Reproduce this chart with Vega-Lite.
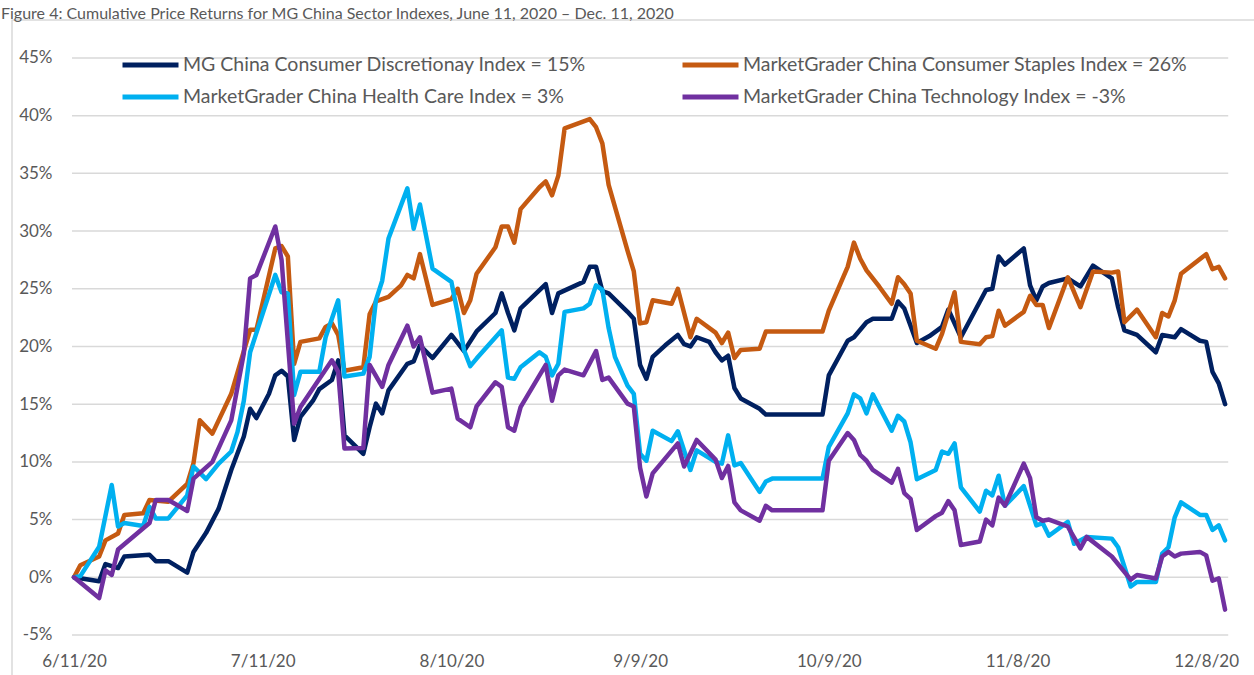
{
  "$schema": "https://vega.github.io/schema/vega-lite/v6.json",
  "width": 1243,
  "height": 657,
  "autosize": {"type": "none"},
  "padding": {"left": 12, "top": 20, "right": 0, "bottom": 0},
  "background": "white",
  "config": {
    "view": {"stroke": "#D9D9D9", "strokeWidth": 1.5},
    "font": "Lato"
  },
  "title": {
    "text": "Figure 4: Cumulative Price Returns for MG China Sector Indexes, June 11, 2020 – Dec. 11, 2020",
    "anchor": "start",
    "frame": "group",
    "baseline": "alphabetic",
    "offset": -15,
    "dx": -11,
    "font": "Lato",
    "fontSize": 16,
    "fontWeight": "normal",
    "color": "#595959"
  },
  "layer": [
    {
      "data": {"values": [{"g": -5}, {"g": 0}, {"g": 5}, {"g": 10}, {"g": 15}, {"g": 20}, {"g": 25}, {"g": 30}, {"g": 35}, {"g": 40}, {"g": 45}]},
      "mark": {"type": "rule", "color": "#D9D9D9", "strokeWidth": 1.5},
      "encoding": {
        "x": {"datum": 1591805952000, "type": "temporal"},
        "x2": {"datum": 1607688000000},
        "y": {"field": "g", "type": "quantitative"}
      }
    },
    {
      "data": {
        "values": [
          {"k":"D","d":"2020-06-11","v":0},{"k":"D","d":"2020-06-15","v":-0.35},{"k":"D","d":"2020-06-16","v":1.15},{"k":"D","d":"2020-06-18","v":0.8},{"k":"D","d":"2020-06-19","v":1.8},{"k":"D","d":"2020-06-23","v":1.95},{"k":"D","d":"2020-06-24","v":1.4},{"k":"D","d":"2020-06-26","v":1.4},{"k":"D","d":"2020-06-29","v":0.4},{"k":"D","d":"2020-06-30","v":2.2},{"k":"D","d":"2020-07-02","v":3.85},{"k":"D","d":"2020-07-04","v":5.95},{"k":"D","d":"2020-07-06","v":9.3},{"k":"D","d":"2020-07-08","v":12.2},{"k":"D","d":"2020-07-09","v":14.6},{"k":"D","d":"2020-07-10","v":13.8},{"k":"D","d":"2020-07-12","v":15.9},{"k":"D","d":"2020-07-13","v":17.5},{"k":"D","d":"2020-07-14","v":17.9},{"k":"D","d":"2020-07-15","v":17.4},{"k":"D","d":"2020-07-16","v":11.9},{"k":"D","d":"2020-07-17","v":13.9},{"k":"D","d":"2020-07-19","v":15.3},{"k":"D","d":"2020-07-20","v":16.3},{"k":"D","d":"2020-07-22","v":17.1},{"k":"D","d":"2020-07-23","v":18.8},{"k":"D","d":"2020-07-24","v":12.3},{"k":"D","d":"2020-07-27","v":10.7},{"k":"D","d":"2020-07-28","v":13.0},{"k":"D","d":"2020-07-29","v":15.05},{"k":"D","d":"2020-07-30","v":14.2},{"k":"D","d":"2020-07-31","v":16.2},{"k":"D","d":"2020-08-03","v":18.5},{"k":"D","d":"2020-08-04","v":18.7},{"k":"D","d":"2020-08-05","v":20.1},{"k":"D","d":"2020-08-07","v":19.0},{"k":"D","d":"2020-08-10","v":21.0},{"k":"D","d":"2020-08-12","v":19.6},{"k":"D","d":"2020-08-14","v":21.3},{"k":"D","d":"2020-08-17","v":22.9},{"k":"D","d":"2020-08-18","v":24.6},{"k":"D","d":"2020-08-19","v":22.9},{"k":"D","d":"2020-08-20","v":21.4},{"k":"D","d":"2020-08-21","v":23.3},{"k":"D","d":"2020-08-25","v":25.4},{"k":"D","d":"2020-08-26","v":22.9},{"k":"D","d":"2020-08-27","v":24.6},{"k":"D","d":"2020-08-31","v":25.6},{"k":"D","d":"2020-09-01","v":26.9},{"k":"D","d":"2020-09-02","v":26.9},{"k":"D","d":"2020-09-03","v":24.8},{"k":"D","d":"2020-09-04","v":24.6},{"k":"D","d":"2020-09-07","v":23.0},{"k":"D","d":"2020-09-08","v":22.4},{"k":"D","d":"2020-09-09","v":18.4},{"k":"D","d":"2020-09-10","v":17.2},{"k":"D","d":"2020-09-11","v":19.1},{"k":"D","d":"2020-09-13","v":20.1},{"k":"D","d":"2020-09-15","v":21.0},{"k":"D","d":"2020-09-16","v":20.2},{"k":"D","d":"2020-09-17","v":20.0},{"k":"D","d":"2020-09-18","v":20.8},{"k":"D","d":"2020-09-20","v":20.4},{"k":"D","d":"2020-09-21","v":19.5},{"k":"D","d":"2020-09-22","v":18.8},{"k":"D","d":"2020-09-23","v":19.2},{"k":"D","d":"2020-09-24","v":16.4},{"k":"D","d":"2020-09-25","v":15.5},{"k":"D","d":"2020-09-28","v":14.6},{"k":"D","d":"2020-09-29","v":14.1},{"k":"D","d":"2020-10-08","v":14.1},{"k":"D","d":"2020-10-09","v":17.5},{"k":"D","d":"2020-10-12","v":20.5},{"k":"D","d":"2020-10-13","v":20.8},{"k":"D","d":"2020-10-15","v":22.1},{"k":"D","d":"2020-10-16","v":22.4},{"k":"D","d":"2020-10-19","v":22.4},{"k":"D","d":"2020-10-20","v":23.9},{"k":"D","d":"2020-10-21","v":23.3},{"k":"D","d":"2020-10-23","v":20.3},{"k":"D","d":"2020-10-25","v":20.9},{"k":"D","d":"2020-10-27","v":21.7},{"k":"D","d":"2020-10-28","v":23.2},{"k":"D","d":"2020-10-30","v":20.8},{"k":"D","d":"2020-11-03","v":24.9},{"k":"D","d":"2020-11-04","v":25.0},{"k":"D","d":"2020-11-05","v":27.8},{"k":"D","d":"2020-11-06","v":27.1},{"k":"D","d":"2020-11-09","v":28.5},{"k":"D","d":"2020-11-10","v":25.3},{"k":"D","d":"2020-11-11","v":24.0},{"k":"D","d":"2020-11-12","v":25.2},{"k":"D","d":"2020-11-13","v":25.5},{"k":"D","d":"2020-11-16","v":25.9},{"k":"D","d":"2020-11-18","v":25.2},{"k":"D","d":"2020-11-20","v":27.0},{"k":"D","d":"2020-11-23","v":25.9},{"k":"D","d":"2020-11-24","v":23.4},{"k":"D","d":"2020-11-25","v":21.4},{"k":"D","d":"2020-11-27","v":21.0},{"k":"D","d":"2020-11-30","v":19.5},{"k":"D","d":"2020-12-01","v":21.0},{"k":"D","d":"2020-12-03","v":20.8},{"k":"D","d":"2020-12-04","v":21.5},{"k":"D","d":"2020-12-07","v":20.5},{"k":"D","d":"2020-12-08","v":20.4},{"k":"D","d":"2020-12-09","v":17.8},{"k":"D","d":"2020-12-10","v":16.8},{"k":"D","d":"2020-12-11","v":15.0},

          {"k":"S","d":"2020-06-11","v":0},{"k":"S","d":"2020-06-12","v":1.05},{"k":"S","d":"2020-06-15","v":1.8},{"k":"S","d":"2020-06-16","v":3.2},{"k":"S","d":"2020-06-18","v":3.8},{"k":"S","d":"2020-06-19","v":5.4},{"k":"S","d":"2020-06-22","v":5.55},{"k":"S","d":"2020-06-23","v":6.7},{"k":"S","d":"2020-06-26","v":6.55},{"k":"S","d":"2020-06-29","v":8.1},{"k":"S","d":"2020-06-30","v":9.9},{"k":"S","d":"2020-07-01","v":13.6},{"k":"S","d":"2020-07-03","v":12.45},{"k":"S","d":"2020-07-06","v":15.9},{"k":"S","d":"2020-07-09","v":21.45},{"k":"S","d":"2020-07-10","v":21.45},{"k":"S","d":"2020-07-13","v":28.5},{"k":"S","d":"2020-07-14","v":28.7},{"k":"S","d":"2020-07-15","v":27.8},{"k":"S","d":"2020-07-16","v":18.5},{"k":"S","d":"2020-07-17","v":20.4},{"k":"S","d":"2020-07-20","v":20.7},{"k":"S","d":"2020-07-21","v":21.7},{"k":"S","d":"2020-07-22","v":22.0},{"k":"S","d":"2020-07-23","v":21.0},{"k":"S","d":"2020-07-24","v":17.9},{"k":"S","d":"2020-07-27","v":18.2},{"k":"S","d":"2020-07-28","v":22.8},{"k":"S","d":"2020-07-29","v":23.9},{"k":"S","d":"2020-07-31","v":24.3},{"k":"S","d":"2020-08-02","v":25.3},{"k":"S","d":"2020-08-03","v":26.2},{"k":"S","d":"2020-08-04","v":25.9},{"k":"S","d":"2020-08-05","v":28.0},{"k":"S","d":"2020-08-07","v":23.6},{"k":"S","d":"2020-08-10","v":24.1},{"k":"S","d":"2020-08-11","v":25.0},{"k":"S","d":"2020-08-12","v":22.9},{"k":"S","d":"2020-08-13","v":24.0},{"k":"S","d":"2020-08-14","v":26.3},{"k":"S","d":"2020-08-17","v":28.6},{"k":"S","d":"2020-08-18","v":30.4},{"k":"S","d":"2020-08-19","v":30.4},{"k":"S","d":"2020-08-20","v":29.0},{"k":"S","d":"2020-08-21","v":31.9},{"k":"S","d":"2020-08-24","v":33.8},{"k":"S","d":"2020-08-25","v":34.3},{"k":"S","d":"2020-08-26","v":33.1},{"k":"S","d":"2020-08-27","v":34.8},{"k":"S","d":"2020-08-28","v":38.9},{"k":"S","d":"2020-09-01","v":39.7},{"k":"S","d":"2020-09-02","v":39.0},{"k":"S","d":"2020-09-03","v":37.6},{"k":"S","d":"2020-09-04","v":34.0},{"k":"S","d":"2020-09-07","v":28.3},{"k":"S","d":"2020-09-08","v":26.5},{"k":"S","d":"2020-09-09","v":22.0},{"k":"S","d":"2020-09-10","v":22.1},{"k":"S","d":"2020-09-11","v":24.0},{"k":"S","d":"2020-09-14","v":23.7},{"k":"S","d":"2020-09-15","v":25.0},{"k":"S","d":"2020-09-17","v":20.8},{"k":"S","d":"2020-09-18","v":22.4},{"k":"S","d":"2020-09-21","v":21.2},{"k":"S","d":"2020-09-22","v":20.3},{"k":"S","d":"2020-09-23","v":21.2},{"k":"S","d":"2020-09-24","v":19.0},{"k":"S","d":"2020-09-25","v":19.7},{"k":"S","d":"2020-09-28","v":19.8},{"k":"S","d":"2020-09-29","v":21.3},{"k":"S","d":"2020-10-08","v":21.3},{"k":"S","d":"2020-10-09","v":23.1},{"k":"S","d":"2020-10-12","v":26.9},{"k":"S","d":"2020-10-13","v":29.0},{"k":"S","d":"2020-10-14","v":27.6},{"k":"S","d":"2020-10-15","v":26.6},{"k":"S","d":"2020-10-17","v":25.2},{"k":"S","d":"2020-10-19","v":23.7},{"k":"S","d":"2020-10-20","v":26.0},{"k":"S","d":"2020-10-21","v":25.4},{"k":"S","d":"2020-10-22","v":24.6},{"k":"S","d":"2020-10-23","v":20.5},{"k":"S","d":"2020-10-26","v":19.8},{"k":"S","d":"2020-10-27","v":21.1},{"k":"S","d":"2020-10-29","v":24.7},{"k":"S","d":"2020-10-30","v":20.4},{"k":"S","d":"2020-11-02","v":20.2},{"k":"S","d":"2020-11-03","v":20.8},{"k":"S","d":"2020-11-04","v":20.9},{"k":"S","d":"2020-11-05","v":23.1},{"k":"S","d":"2020-11-06","v":21.8},{"k":"S","d":"2020-11-09","v":23.0},{"k":"S","d":"2020-11-10","v":24.4},{"k":"S","d":"2020-11-11","v":23.6},{"k":"S","d":"2020-11-12","v":23.6},{"k":"S","d":"2020-11-13","v":21.6},{"k":"S","d":"2020-11-16","v":26.0},{"k":"S","d":"2020-11-18","v":23.4},{"k":"S","d":"2020-11-20","v":26.5},{"k":"S","d":"2020-11-23","v":26.4},{"k":"S","d":"2020-11-24","v":26.5},{"k":"S","d":"2020-11-25","v":22.1},{"k":"S","d":"2020-11-27","v":23.2},{"k":"S","d":"2020-11-30","v":20.8},{"k":"S","d":"2020-12-01","v":22.9},{"k":"S","d":"2020-12-02","v":22.6},{"k":"S","d":"2020-12-03","v":24.0},{"k":"S","d":"2020-12-04","v":26.3},{"k":"S","d":"2020-12-08","v":28.0},{"k":"S","d":"2020-12-09","v":26.7},{"k":"S","d":"2020-12-10","v":26.9},{"k":"S","d":"2020-12-11","v":25.9},

          {"k":"H","d":"2020-06-11","v":0},{"k":"H","d":"2020-06-12","v":0.1},{"k":"H","d":"2020-06-15","v":2.65},{"k":"H","d":"2020-06-17","v":8.0},{"k":"H","d":"2020-06-18","v":4.4},{"k":"H","d":"2020-06-19","v":4.7},{"k":"H","d":"2020-06-22","v":4.45},{"k":"H","d":"2020-06-23","v":6.1},{"k":"H","d":"2020-06-24","v":5.1},{"k":"H","d":"2020-06-26","v":5.1},{"k":"H","d":"2020-06-29","v":7.1},{"k":"H","d":"2020-06-30","v":9.6},{"k":"H","d":"2020-07-02","v":8.5},{"k":"H","d":"2020-07-04","v":9.85},{"k":"H","d":"2020-07-06","v":10.9},{"k":"H","d":"2020-07-07","v":12.6},{"k":"H","d":"2020-07-08","v":15.3},{"k":"H","d":"2020-07-09","v":19.5},{"k":"H","d":"2020-07-13","v":26.2},{"k":"H","d":"2020-07-14","v":24.7},{"k":"H","d":"2020-07-15","v":24.6},{"k":"H","d":"2020-07-16","v":15.8},{"k":"H","d":"2020-07-17","v":17.8},{"k":"H","d":"2020-07-20","v":17.8},{"k":"H","d":"2020-07-21","v":20.8},{"k":"H","d":"2020-07-23","v":24.0},{"k":"H","d":"2020-07-24","v":17.4},{"k":"H","d":"2020-07-27","v":17.65},{"k":"H","d":"2020-07-28","v":19.1},{"k":"H","d":"2020-07-29","v":24.0},{"k":"H","d":"2020-07-30","v":25.7},{"k":"H","d":"2020-07-31","v":29.35},{"k":"H","d":"2020-08-03","v":33.7},{"k":"H","d":"2020-08-04","v":30.2},{"k":"H","d":"2020-08-05","v":32.3},{"k":"H","d":"2020-08-07","v":26.75},{"k":"H","d":"2020-08-10","v":25.6},{"k":"H","d":"2020-08-11","v":22.85},{"k":"H","d":"2020-08-12","v":19.7},{"k":"H","d":"2020-08-13","v":18.3},{"k":"H","d":"2020-08-14","v":18.95},{"k":"H","d":"2020-08-18","v":21.4},{"k":"H","d":"2020-08-19","v":17.3},{"k":"H","d":"2020-08-20","v":17.2},{"k":"H","d":"2020-08-21","v":18.2},{"k":"H","d":"2020-08-24","v":19.5},{"k":"H","d":"2020-08-25","v":19.1},{"k":"H","d":"2020-08-26","v":17.5},{"k":"H","d":"2020-08-27","v":18.5},{"k":"H","d":"2020-08-28","v":23.0},{"k":"H","d":"2020-08-31","v":23.3},{"k":"H","d":"2020-09-01","v":23.7},{"k":"H","d":"2020-09-02","v":25.3},{"k":"H","d":"2020-09-03","v":24.9},{"k":"H","d":"2020-09-04","v":21.6},{"k":"H","d":"2020-09-05","v":19.1},{"k":"H","d":"2020-09-07","v":16.6},{"k":"H","d":"2020-09-08","v":15.9},{"k":"H","d":"2020-09-09","v":10.7},{"k":"H","d":"2020-09-10","v":10.1},{"k":"H","d":"2020-09-11","v":12.7},{"k":"H","d":"2020-09-14","v":11.8},{"k":"H","d":"2020-09-15","v":12.65},{"k":"H","d":"2020-09-17","v":9.3},{"k":"H","d":"2020-09-18","v":11.0},{"k":"H","d":"2020-09-21","v":10.0},{"k":"H","d":"2020-09-22","v":9.85},{"k":"H","d":"2020-09-23","v":12.3},{"k":"H","d":"2020-09-24","v":9.7},{"k":"H","d":"2020-09-25","v":9.9},{"k":"H","d":"2020-09-28","v":7.4},{"k":"H","d":"2020-09-29","v":8.3},{"k":"H","d":"2020-09-30","v":8.55},{"k":"H","d":"2020-10-08","v":8.55},{"k":"H","d":"2020-10-09","v":11.3},{"k":"H","d":"2020-10-12","v":14.2},{"k":"H","d":"2020-10-13","v":15.85},{"k":"H","d":"2020-10-14","v":15.5},{"k":"H","d":"2020-10-15","v":14.2},{"k":"H","d":"2020-10-16","v":15.85},{"k":"H","d":"2020-10-19","v":12.7},{"k":"H","d":"2020-10-20","v":14.0},{"k":"H","d":"2020-10-21","v":13.5},{"k":"H","d":"2020-10-22","v":11.7},{"k":"H","d":"2020-10-23","v":8.5},{"k":"H","d":"2020-10-26","v":9.3},{"k":"H","d":"2020-10-27","v":10.9},{"k":"H","d":"2020-10-28","v":10.7},{"k":"H","d":"2020-10-29","v":11.6},{"k":"H","d":"2020-10-30","v":7.8},{"k":"H","d":"2020-11-02","v":5.7},{"k":"H","d":"2020-11-03","v":7.5},{"k":"H","d":"2020-11-04","v":7.1},{"k":"H","d":"2020-11-05","v":8.8},{"k":"H","d":"2020-11-06","v":6.2},{"k":"H","d":"2020-11-09","v":7.9},{"k":"H","d":"2020-11-11","v":4.5},{"k":"H","d":"2020-11-12","v":4.7},{"k":"H","d":"2020-11-13","v":3.6},{"k":"H","d":"2020-11-16","v":4.8},{"k":"H","d":"2020-11-17","v":2.9},{"k":"H","d":"2020-11-19","v":3.5},{"k":"H","d":"2020-11-23","v":3.35},{"k":"H","d":"2020-11-24","v":2.6},{"k":"H","d":"2020-11-26","v":-0.8},{"k":"H","d":"2020-11-27","v":-0.4},{"k":"H","d":"2020-11-30","v":-0.4},{"k":"H","d":"2020-12-01","v":2.05},{"k":"H","d":"2020-12-02","v":2.6},{"k":"H","d":"2020-12-03","v":5.2},{"k":"H","d":"2020-12-04","v":6.5},{"k":"H","d":"2020-12-07","v":5.4},{"k":"H","d":"2020-12-08","v":5.4},{"k":"H","d":"2020-12-09","v":4.1},{"k":"H","d":"2020-12-10","v":4.5},{"k":"H","d":"2020-12-11","v":3.2},

          {"k":"T","d":"2020-06-11","v":0},{"k":"T","d":"2020-06-15","v":-1.8},{"k":"T","d":"2020-06-16","v":0.6},{"k":"T","d":"2020-06-17","v":0.2},{"k":"T","d":"2020-06-18","v":2.4},{"k":"T","d":"2020-06-23","v":4.7},{"k":"T","d":"2020-06-24","v":6.7},{"k":"T","d":"2020-06-26","v":6.7},{"k":"T","d":"2020-06-29","v":5.75},{"k":"T","d":"2020-06-30","v":8.55},{"k":"T","d":"2020-07-03","v":10.0},{"k":"T","d":"2020-07-06","v":13.6},{"k":"T","d":"2020-07-07","v":16.5},{"k":"T","d":"2020-07-08","v":19.4},{"k":"T","d":"2020-07-09","v":25.9},{"k":"T","d":"2020-07-10","v":26.2},{"k":"T","d":"2020-07-13","v":30.4},{"k":"T","d":"2020-07-14","v":27.5},{"k":"T","d":"2020-07-16","v":13.3},{"k":"T","d":"2020-07-17","v":14.75},{"k":"T","d":"2020-07-22","v":18.8},{"k":"T","d":"2020-07-23","v":17.8},{"k":"T","d":"2020-07-24","v":11.15},{"k":"T","d":"2020-07-27","v":11.2},{"k":"T","d":"2020-07-28","v":18.4},{"k":"T","d":"2020-07-30","v":16.5},{"k":"T","d":"2020-07-31","v":18.4},{"k":"T","d":"2020-08-03","v":21.8},{"k":"T","d":"2020-08-04","v":20.0},{"k":"T","d":"2020-08-05","v":20.8},{"k":"T","d":"2020-08-07","v":16.0},{"k":"T","d":"2020-08-10","v":16.35},{"k":"T","d":"2020-08-11","v":13.75},{"k":"T","d":"2020-08-13","v":13.0},{"k":"T","d":"2020-08-14","v":14.8},{"k":"T","d":"2020-08-17","v":16.9},{"k":"T","d":"2020-08-18","v":16.5},{"k":"T","d":"2020-08-19","v":13.0},{"k":"T","d":"2020-08-20","v":12.7},{"k":"T","d":"2020-08-21","v":14.75},{"k":"T","d":"2020-08-25","v":18.4},{"k":"T","d":"2020-08-26","v":15.3},{"k":"T","d":"2020-08-27","v":17.5},{"k":"T","d":"2020-08-28","v":18.0},{"k":"T","d":"2020-08-31","v":17.5},{"k":"T","d":"2020-09-02","v":19.6},{"k":"T","d":"2020-09-03","v":17.1},{"k":"T","d":"2020-09-04","v":17.3},{"k":"T","d":"2020-09-07","v":15.05},{"k":"T","d":"2020-09-08","v":14.8},{"k":"T","d":"2020-09-09","v":9.5},{"k":"T","d":"2020-09-10","v":7.0},{"k":"T","d":"2020-09-11","v":9.0},{"k":"T","d":"2020-09-15","v":11.6},{"k":"T","d":"2020-09-16","v":9.6},{"k":"T","d":"2020-09-18","v":11.9},{"k":"T","d":"2020-09-21","v":10.2},{"k":"T","d":"2020-09-22","v":8.6},{"k":"T","d":"2020-09-23","v":9.65},{"k":"T","d":"2020-09-24","v":6.5},{"k":"T","d":"2020-09-25","v":5.8},{"k":"T","d":"2020-09-28","v":4.9},{"k":"T","d":"2020-09-29","v":6.2},{"k":"T","d":"2020-09-30","v":5.8},{"k":"T","d":"2020-10-08","v":5.8},{"k":"T","d":"2020-10-09","v":10.1},{"k":"T","d":"2020-10-12","v":12.5},{"k":"T","d":"2020-10-13","v":11.9},{"k":"T","d":"2020-10-14","v":10.6},{"k":"T","d":"2020-10-15","v":10.1},{"k":"T","d":"2020-10-16","v":9.3},{"k":"T","d":"2020-10-19","v":8.2},{"k":"T","d":"2020-10-20","v":9.4},{"k":"T","d":"2020-10-21","v":7.3},{"k":"T","d":"2020-10-22","v":6.8},{"k":"T","d":"2020-10-23","v":4.1},{"k":"T","d":"2020-10-26","v":5.3},{"k":"T","d":"2020-10-27","v":5.6},{"k":"T","d":"2020-10-28","v":6.6},{"k":"T","d":"2020-10-29","v":5.8},{"k":"T","d":"2020-10-30","v":2.8},{"k":"T","d":"2020-11-02","v":3.1},{"k":"T","d":"2020-11-03","v":5.0},{"k":"T","d":"2020-11-04","v":4.5},{"k":"T","d":"2020-11-05","v":6.9},{"k":"T","d":"2020-11-06","v":6.2},{"k":"T","d":"2020-11-09","v":9.85},{"k":"T","d":"2020-11-10","v":8.6},{"k":"T","d":"2020-11-11","v":5.2},{"k":"T","d":"2020-11-12","v":4.9},{"k":"T","d":"2020-11-13","v":5.0},{"k":"T","d":"2020-11-16","v":4.4},{"k":"T","d":"2020-11-18","v":2.5},{"k":"T","d":"2020-11-19","v":3.5},{"k":"T","d":"2020-11-23","v":1.8},{"k":"T","d":"2020-11-26","v":-0.2},{"k":"T","d":"2020-11-27","v":0.2},{"k":"T","d":"2020-11-30","v":-0.1},{"k":"T","d":"2020-12-01","v":1.8},{"k":"T","d":"2020-12-02","v":2.2},{"k":"T","d":"2020-12-03","v":1.8},{"k":"T","d":"2020-12-04","v":2.05},{"k":"T","d":"2020-12-07","v":2.2},{"k":"T","d":"2020-12-08","v":1.9},{"k":"T","d":"2020-12-09","v":-0.3},{"k":"T","d":"2020-12-10","v":-0.1},{"k":"T","d":"2020-12-11","v":-2.8}
        ],
        "format": {"parse": {"d": "utc:'%Y-%m-%d'"}}
      },
      "mark": {"type": "line", "strokeWidth": 4.5, "strokeCap": "round", "strokeJoin": "round"},
      "encoding": {
        "x": {
          "field": "d",
          "type": "temporal",
          "scale": {"type": "utc", "domain": [1590981955200, 1608056064000]},
          "axis": {
            "values": [1591833600000, 1594425600000, 1597017600000, 1599609600000, 1602201600000, 1604793600000, 1607385600000],
            "labelExpr": "utcFormat(datum.value, '%-m/%-d/%y')",
            "title": null,
            "grid": false,
            "domain": false,
            "ticks": false,
            "offset": -24,
            "labelPadding": 0,
            "labelBaseline": "top",
            "labelFont": "Lato",
            "labelFontSize": 17,
            "labelColor": "#595959",
            "labelOverlap": false,
            "labelFlush": false
          }
        },
        "y": {
          "field": "v",
          "type": "quantitative",
          "scale": {"domain": [-8.64, 48.29], "nice": false, "zero": false},
          "axis": {
            "values": [-5, 0, 5, 10, 15, 20, 25, 30, 35, 40, 45],
            "labelExpr": "datum.value + '%'",
            "title": null,
            "grid": false,
            "domain": false,
            "ticks": false,
            "offset": -44,
            "labelPadding": 4,
            "labelFont": "Lato",
            "labelFontSize": 17,
            "labelColor": "#595959",
            "labelOverlap": false,
            "labelFlush": false
          }
        },
        "color": {
          "field": "k",
          "type": "nominal",
          "scale": {"domain": ["D", "S", "H", "T"], "range": ["#002060", "#C55A11", "#00B0F0", "#7030A0"]},
          "legend": {
            "orient": "none",
            "legendX": 108,
            "legendY": 29,
            "direction": "horizontal",
            "columns": 2,
            "columnPadding": 94,
            "rowPadding": 0,
            "clipHeight": 32,
            "padding": 0,
            "title": null,
            "symbolType": "stroke",
            "symbolSize": 3136,
            "symbolStrokeWidth": 5,
            "labelOffset": 2,
            "labelFont": "Lato",
            "labelFontSize": 19.5,
            "labelColor": "#595959",
            "labelLimit": 700,
            "labelExpr": "datum.label == 'D' ? 'MG China Consumer Discretionay Index = 15%' : datum.label == 'S' ? 'MarketGrader China Consumer Staples Index = 26%' : datum.label == 'H' ? 'MarketGrader China Health Care Index = 3%' : 'MarketGrader China Technology Index = -3%'"
          }
        }
      }
    }
  ]
}
